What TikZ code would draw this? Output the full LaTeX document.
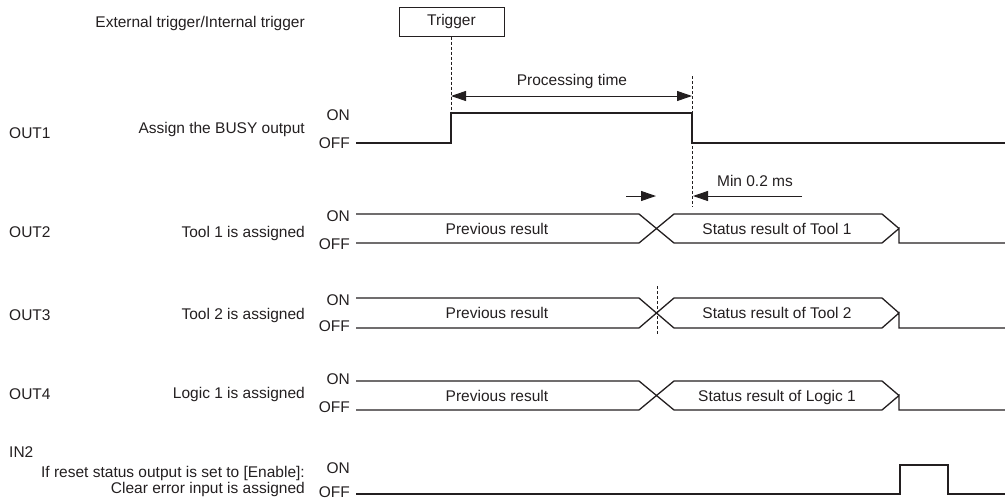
\documentclass[tikz,border=0pt]{standalone}
\usepackage{fontspec}
\setmainfont{Liberation Sans}
\usetikzlibrary{arrows.meta}
\definecolor{ink}{HTML}{231F20}

% One data bus row: top level, bottom level, name prefix, old text, new text
\newcommand\busrow[5]{%
  \coordinate (#3end) at (899,{(#1+#2)/2});
  \draw[wave] (356,#1) -- (639,#1) -- (674,#2) -- (882,#2) -- (#3end) -- (899,#2) -- (1005,#2);
  \draw[wave] (356,#2) -- (639,#2) -- (674,#1) -- (882,#1) -- (#3end);
  \node[lbl] (#3prev) at (497,{(#1+#2)/2}) {#4};
  \node[lbl] (#3stat) at (777,{(#1+#2)/2}) {#5};
}

\begin{document}
\begin{tikzpicture}[x=1pt,y=-1pt,
  font=\fontsize{15.5}{18}\selectfont,
  lbl/.style={inner sep=0pt,text height=11pt,text depth=0pt,text=ink},
  desc/.style={lbl,anchor=east},
  lvl/.style={lbl,anchor=east},
  sig/.style={lbl,anchor=west},
  wave/.style={draw=ink,line width=1.3pt,line join=miter},
  guide/.style={draw=ink,line width=0.8pt,dash pattern=on 3pt off 2pt},
  dimarrow/.style={draw=ink,line width=1pt,-{Triangle[length=15pt,width=10pt]}},
  dimboth/.style={draw=ink,line width=1pt,{Triangle[length=15pt,width=10pt]}-{Triangle[length=15pt,width=10pt]}},
]
\useasboundingbox (0,0) rectangle (1005,499);

% trigger source
\node[desc] (src) at (305,22) {External trigger/Internal trigger};
\node[draw=ink,line width=1pt,minimum width=105pt,minimum height=29pt,inner sep=0pt,text=ink] (trig) at (451.5,21.5) {Trigger};

% signal names
\node[sig] (o1) at (9,133) {OUT1};
\node[sig] (o2) at (9,232) {OUT2};
\node[sig] (o3) at (9,315) {OUT3};
\node[sig] (o4) at (9,394) {OUT4};
\node[sig] (i2) at (9,452) {IN2};

% descriptions
\node[desc] (d1) at (305,128) {Assign the BUSY output};
\node[desc] (d2) at (305,232) {Tool 1 is assigned};
\node[desc] (d3) at (305,314) {Tool 2 is assigned};
\node[desc] (d4) at (305,393) {Logic 1 is assigned};
\node[desc] (d5a) at (305,472) {If reset status output is set to [Enable]:};
\node[desc] (d5b) at (305,488) {Clear error input is assigned};

% ON/OFF levels
\node[lvl] (on1) at (350,115) {ON};
\node[lvl] (off1) at (350,143) {OFF};
\node[lvl] (on2) at (350,216) {ON};
\node[lvl] (off2) at (350,244) {OFF};
\node[lvl] (on3) at (350,300) {ON};
\node[lvl] (off3) at (350,326) {OFF};
\node[lvl] (on4) at (350,379) {ON};
\node[lvl] (off4) at (350,407) {OFF};
\node[lvl] (on5) at (350,468) {ON};
\node[lvl] (off5) at (350,492) {OFF};

% OUT1: BUSY pulse
\coordinate (rise) at (451,113);
\coordinate (fall) at (692,113);
\draw[wave] (356,143) -- (451,143) -- (rise) -- (fall) -- (692,143) -- (1005,143);

% OUT2..OUT4: result buses
\busrow{214}{243}{b2}{Previous result}{Status result of Tool 1}
\busrow{298}{328}{b3}{Previous result}{Status result of Tool 2}
\busrow{381}{410}{b4}{Previous result}{Status result of Logic 1}

% IN2: clear error pulse
\draw[wave] (356,494) -- (900,494) -- (900,465) -- (948,465) -- (948,494) -- (1005,494);

% timing guides
\coordinate (g1top) at (692,76);
\coordinate (g1bot) at (692,207);
\coordinate (g2top) at (657,286);
\coordinate (g2bot) at (657,335);
\draw[guide] (trig.south -| rise) -- (rise);
\draw[guide] (g1top) -- (g1bot);
\draw[guide] (g2top) -- (g2bot);

% processing time
\coordinate (pa) at (451,96);
\coordinate (pb) at (692,96);
\draw[dimboth] (pa) -- (pb);
\node[lbl] (ptime) at (572,80) {Processing time};

% minimum 0.2 ms
\coordinate (ma) at (626,196);
\coordinate (mb) at (656,196);
\coordinate (mc) at (802,196);
\coordinate (md) at (693,196);
\draw[dimarrow] (ma) -- (mb);
\draw[dimarrow] (mc) -- (md);
\node[lbl] (mtime) at (755,181) {Min 0.2 ms};
\end{tikzpicture}
\end{document}
